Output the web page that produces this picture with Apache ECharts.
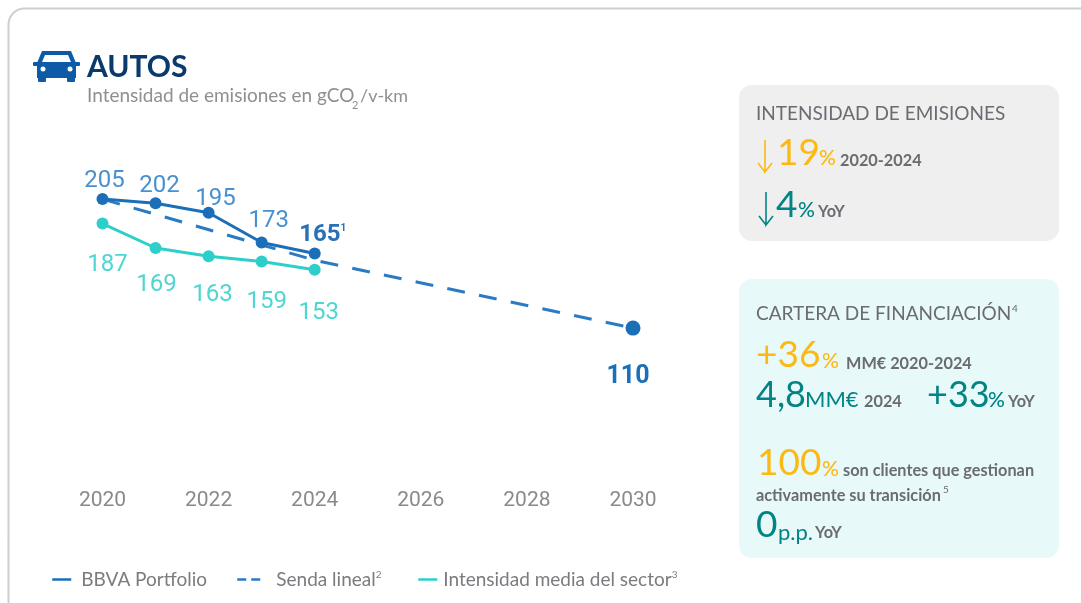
<!DOCTYPE html>
<html>
<head>
<meta charset="utf-8">
<style>
html, body { margin: 0; padding: 0; background: #fff; }
#chart { width: 1081px; height: 603px; }
</style>
<script src="https://cdn.jsdelivr.net/npm/echarts@6/dist/echarts.min.js"></script>
</head>
<body>
<div id="chart"></div>
<script>
// datos
const years = [2020, 2021, 2022, 2023, 2024]
const xTicks = { min: 2020, max: 2030, step: 2 }
const bbvaValues = [205, 202, 195, 173, 165]
const sectorValues = [187, 169, 163, 159, 153]
const sendaYears = [2020, 2024, 2030]
const sendaValues = [205, 160, 110]

// desplazamiento de cada etiqueta respecto a su punto
const bbvaOffsets = [[2, -18], [4, -17], [7, -14], [7, -22], [8, -18]]
const sectorOffsets = [[5, 41], [1, 37], [4, 39], [5, 40], [4, 43]]

const BLUE = '#1a6fb8'
const TEAL = '#2dcfca'
const ORANGE = '#fdb913'
const GREEN = '#028484'
const GRAY = '#6b6b72'
const CAR = '#0d5ba6'

function txt (text, x, y, size, color, weight) {
  return {
    type: 'text',
    silent: true,
    style: {
      text: text,
      x: x,
      y: y,
      fill: color,
      font: (weight || 400) + ' ' + size + 'px Lato',
      verticalAlign: 'middle'
    }
  }
}

function arrow (x, y1, y2, color) {
  return {
    type: 'polyline',
    silent: true,
    shape: { points: [[x - 7, y2 - 9], [x, y2], [x + 7, y2 - 9], [x, y2], [x, y1]] },
    style: { stroke: color, lineWidth: 1.6, fill: null }
  }
}

function carRect (x, y, w, h, r, color) {
  return { type: 'rect', silent: true, shape: { x: x, y: y, width: w, height: h, r: r }, style: { fill: color } }
}

const panels = [
  // marco
  { type: 'rect', silent: true, z: -1, shape: { x: 8.5, y: 8.5, width: 1100, height: 640, r: 16 }, style: { fill: '#fff', stroke: '#cfcfcf', lineWidth: 2 } },
  { type: 'rect', silent: true, z: -1, shape: { x: 739, y: 85, width: 320, height: 156, r: 13 }, style: { fill: '#efefef' } },
  { type: 'rect', silent: true, z: -1, shape: { x: 739, y: 279, width: 320, height: 279, r: 13 }, style: { fill: '#e8f9fa' } },
  // icono
  { type: 'polygon', silent: true, shape: { points: [[42, 51], [71, 51], [76, 63], [76, 78], [37, 78], [37, 63]] }, style: { fill: CAR } },
  { type: 'polygon', silent: true, shape: { points: [[45, 55], [68, 55], [71, 62], [42, 62]] }, style: { fill: '#fff' } },
  carRect(33, 62, 8, 4, 1, CAR),
  carRect(72, 62, 8, 4, 1, CAR),
  carRect(38, 76, 8, 6, 1, CAR),
  carRect(67, 76, 8, 6, 1, CAR),
  { type: 'circle', silent: true, shape: { cx: 43, cy: 69, r: 2.5 }, style: { fill: '#fff' } },
  { type: 'circle', silent: true, shape: { cx: 70, cy: 69, r: 2.5 }, style: { fill: '#fff' } },
  // titulo
  txt('AUTOS', 87, 67, 30, '#0a3a6b', 700),
  txt('Intensidad de emisiones en gCO', 87, 96, 19, '#8f8f8f'),
  txt('2', 352, 105, 11, '#8f8f8f'),
  txt('/v-km', 360, 96, 18, '#8f8f8f'),
  // intensidad
  txt('INTENSIDAD DE EMISIONES', 756, 114, 19, GRAY),
  arrow(765, 140, 172, ORANGE),
  txt('19', 777, 153, 37, ORANGE),
  txt('%', 819, 158, 21, ORANGE, 500),
  txt('2020-2024', 840, 161, 16.3, GRAY, 700),
  arrow(766, 192, 225, GREEN),
  txt('4', 776, 205, 37, GREEN),
  txt('%', 798, 210, 21, GREEN, 500),
  txt('YoY', 818, 212, 16.3, GRAY, 700),
  // cartera
  txt('CARTERA DE FINANCIACIÓN', 756, 314, 19, GRAY),
  txt('4', 1012, 309, 10, GRAY),
  txt('+36', 756, 355, 37, ORANGE),
  txt('%', 822, 361, 21, ORANGE, 500),
  txt('MM€ 2020-2024', 846, 364, 16.3, GRAY, 700),
  txt('4,8', 756, 395, 36, GREEN),
  txt('MM€', 805, 400, 22, GREEN),
  txt('2024', 864, 402, 16.3, GRAY, 700),
  txt('+33', 927, 395, 36, GREEN),
  txt('%', 988, 400, 21, GREEN, 500),
  txt('YoY', 1008, 402, 16.3, GRAY, 700),
  txt('100', 757, 463, 37, ORANGE),
  txt('%', 822, 469, 21, ORANGE, 500),
  txt('son clientes que gestionan', 843, 471, 16.3, GRAY, 700),
  txt('activamente su transición', 756, 496, 16.3, GRAY, 700),
  txt('5', 943, 490, 10, GRAY),
  txt('0', 756, 525, 37, GREEN),
  txt('p.p.', 778, 533, 22, GREEN),
  txt('YoY', 815, 533, 16.3, GRAY, 700)
]

function legendItem (name, left, width, gap, dash) {
  return {
    data: [name],
    left: left,
    top: 570,
    padding: 0,
    itemWidth: width,
    itemHeight: 22,
    itemGap: 0,
    itemStyle: { opacity: 0 },
    lineStyle: { width: 2.5, type: dash },
    selectedMode: false,
    textStyle: {
      fontFamily: 'Lato',
      fontSize: 19,
      color: '#7b7b80',
      padding: [0, 0, 0, gap],
      rich: { sup: { fontFamily: 'Lato', fontSize: 10, color: '#7b7b80', verticalAlign: 'top', padding: [0, 0, 8, 0] } }
    },
    formatter: function (n) {
      if (n === 'Senda lineal') return n + '{sup|2}'
      if (n === 'Intensidad media del sector') return n + '{sup|3}'
      return n
    }
  }
}

const chart = echarts.init(document.getElementById('chart'), null, { renderer: 'canvas' })

chart.setOption({
  animation: false,
  backgroundColor: '#fff',
  graphic: panels,
  grid: { left: 102.5, width: 530.5, top: 138, height: 339.5 },
  legend: [
    legendItem('BBVA Portfolio', 51, 19, 5, 'solid'),
    legendItem('Senda lineal', 236, 23, 11, [9, 5]),
    legendItem('Intensidad media del sector', 417, 19, 1, 'solid')
  ],
  xAxis: {
    type: 'value',
    min: xTicks.min,
    max: xTicks.max,
    interval: xTicks.step,
    axisLine: { show: false },
    axisTick: { show: false },
    splitLine: { show: false },
    axisLabel: {
      margin: 13,
      fontFamily: 'Roboto',
      fontSize: 21,
      color: '#8a8a8a',
      formatter: function (v) { return String(v) }
    }
  },
  yAxis: { type: 'value', min: 0, max: 250, show: false },
  series: [
    {
      name: 'Senda lineal',
      type: 'line',
      z: 2,
      symbol: 'circle',
      symbolSize: function (v) { return v[0] === xTicks.max ? 15 : 0 },
      itemStyle: { color: BLUE },
      lineStyle: { width: 3, color: '#2a7bc4', type: [18, 14.4] },
      data: sendaYears.map((y, i) => [y, sendaValues[i]]),
      label: {
        show: true,
        position: 'inside',
        fontFamily: 'Roboto',
        fontSize: 25,
        fontWeight: 700,
        color: BLUE,
        formatter: function (p) { return p.value[0] === xTicks.max ? String(p.value[1]) : '' },
        offset: [-5, 49]
      }
    },
    {
      name: 'BBVA Portfolio',
      type: 'line',
      z: 3,
      symbol: 'circle',
      symbolSize: 12,
      itemStyle: { color: BLUE },
      lineStyle: { width: 3, color: BLUE },
      data: years.map((y, i) => ({
        value: [y, bbvaValues[i]],
        label: { offset: bbvaOffsets[i] }
      })),
      label: {
        show: true,
        position: 'inside',
        fontFamily: 'Roboto',
        fontSize: 24,
        color: '#4a90cf',
        formatter: function (p) {
          return p.dataIndex === years.length - 1 ? '{b|' + p.value[1] + '}{sup|1}' : String(p.value[1])
        },
        rich: {
          b: { fontFamily: 'Roboto', fontSize: 24, fontWeight: 700, color: '#2a70b5' },
          sup: { fontFamily: 'Roboto', fontSize: 10, fontWeight: 700, color: '#2a70b5', verticalAlign: 'top', padding: [0, 0, 10, 0] }
        }
      }
    },
    {
      name: 'Intensidad media del sector',
      type: 'line',
      z: 3,
      symbol: 'circle',
      symbolSize: 12,
      itemStyle: { color: TEAL },
      lineStyle: { width: 3, color: TEAL },
      data: years.map((y, i) => ({
        value: [y, sectorValues[i]],
        label: { offset: sectorOffsets[i] }
      })),
      label: {
        show: true,
        position: 'inside',
        fontFamily: 'Roboto',
        fontSize: 24,
        color: '#4dd6d2',
        formatter: function (p) { return String(p.value[1]) }
      }
    }
  ]
})
</script>
</body>
</html>
